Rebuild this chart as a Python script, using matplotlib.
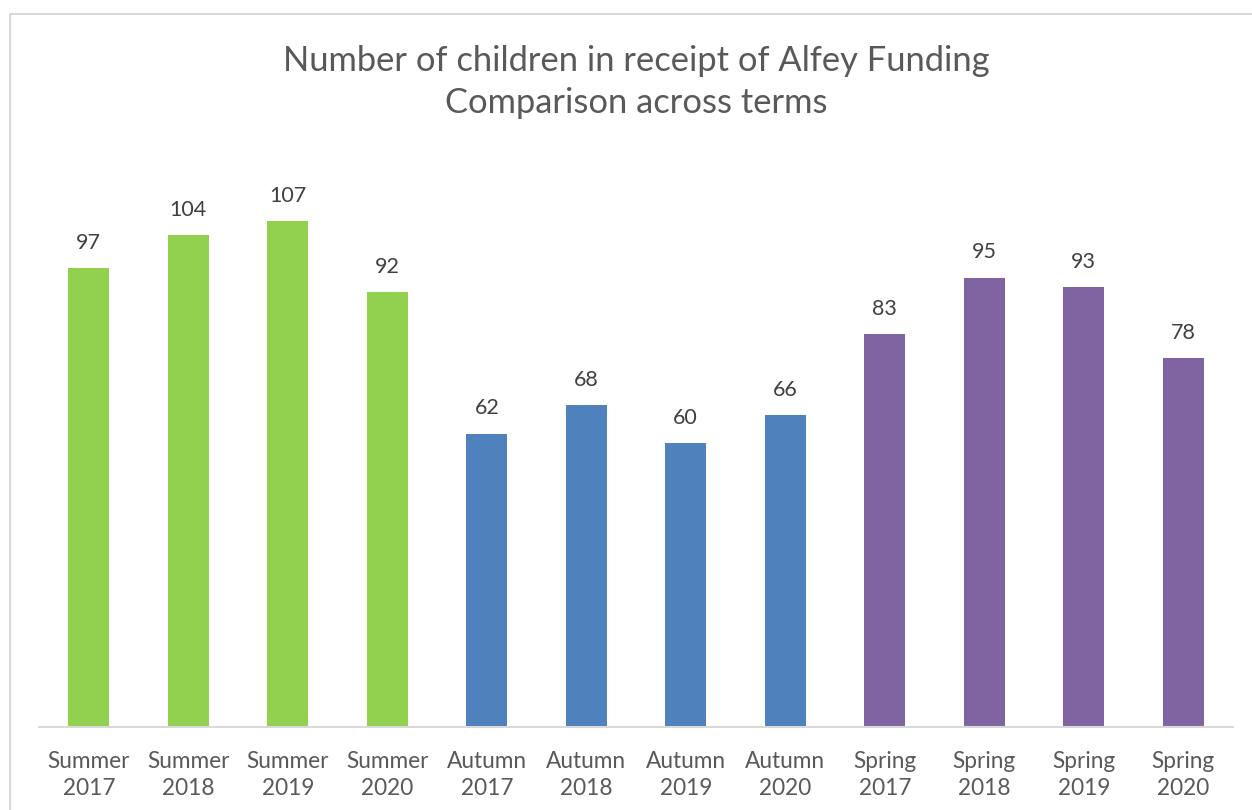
import matplotlib
matplotlib.use("Agg")
import matplotlib.pyplot as plt
from matplotlib.patches import Rectangle

categories = ["Summer\n2017", "Summer\n2018", "Summer\n2019", "Summer\n2020",
              "Autumn\n2017", "Autumn\n2018", "Autumn\n2019", "Autumn\n2020",
              "Spring\n2017", "Spring\n2018", "Spring\n2019", "Spring\n2020"]
values = [97, 104, 107, 92, 62, 68, 60, 66, 83, 95, 93, 78]
colors = ["#92D050"] * 4 + ["#4F81BD"] * 4 + ["#8064A2"] * 4
title = "Number of children in receipt of Alfey Funding\nComparison across terms"

plt.rcParams['font.family'] = ['Lato', 'DejaVu Sans']
W, H = 1252, 810
fig = plt.figure(figsize=(W / 100, H / 100), dpi=100)

# outer chart border (extends past right/bottom edges)
fig.patches.append(Rectangle((10 / W, -0.05), 1.2, 1 - 14 / H + 0.05, transform=fig.transFigure,
                             fill=False, edgecolor="#d9d9d9", linewidth=1.5))

left, right = 39 / W, 1233 / W
bottom, top = 1 - 727 / H, 1 - 150 / H
ax = fig.add_axes([left, bottom, right - left, top - bottom])
x = range(len(values))
ax.bar(x, values, width=0.41, color=colors, zorder=2)
ax.set_xlim(-0.5, len(values) - 0.5)
ax.set_ylim(0, 122)
for s in ["top", "right", "left"]:
    ax.spines[s].set_visible(False)
ax.spines["bottom"].set_color("#d9d9d9")
ax.spines["bottom"].set_linewidth(1.5)
ax.set_yticks([])
ax.set_xticks(list(x))
ax.set_xticklabels(categories, fontsize=16.3, color="#595959", linespacing=1.35)
ax.tick_params(axis="x", length=0, pad=17)
for i, v in enumerate(values):
    ax.annotate(str(v), (i, v), xytext=(0, 11), textcoords="offset points",
                ha="center", va="bottom", fontsize=15.5, color="#404040")

fig.text(636 / W, 1 - 82 / H, title, ha="center", va="center", fontsize=24.8,
         color="#595959", linespacing=1.42)
fig.savefig("out.png", dpi=100, facecolor="white")
